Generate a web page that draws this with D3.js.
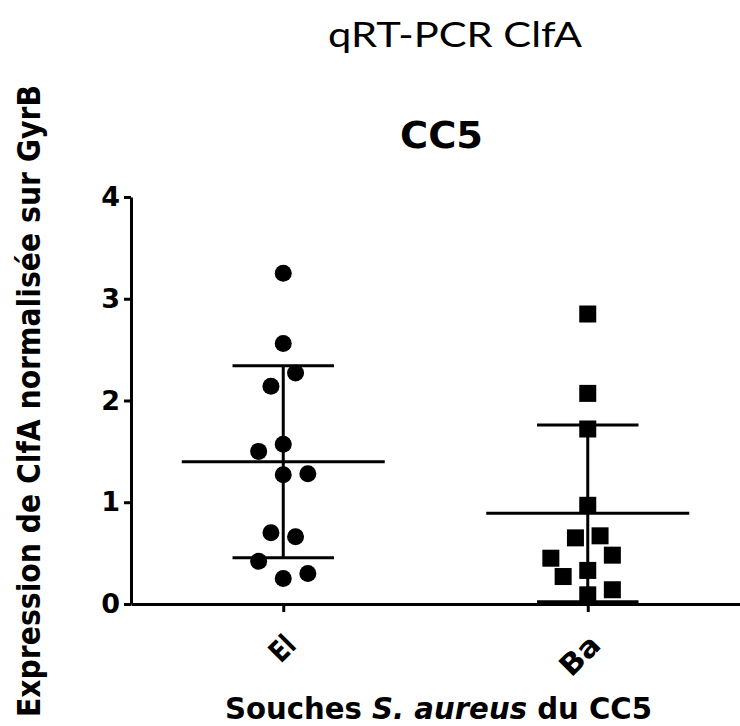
<!DOCTYPE html>
<html>
<head>
<meta charset="utf-8">
<script src="https://cdn.jsdelivr.net/npm/d3@7"></script>
<style>
  body { margin: 0; background: #fff; }
</style>
</head>
<body>
<svg id="chart" width="740" height="726"></svg>
<script>
// values
var categories = ["El", "Ba"];
var elValues = [3.25, 2.56, 2.27, 2.14, 1.57, 1.50, 1.27, 1.28, 0.70, 0.66, 0.42, 0.30, 0.25];
var elLanes  = [0, 0, 1, -1, 0, -2, 0, 2, -1, 1, -2, 2, 0];
var baValues = [2.85, 2.07, 1.72, 0.97, 0.65, 0.67, 0.45, 0.48, 0.33, 0.27, 0.14, 0.09];
var baLanes  = [0, 0, 0, 0, -1, 1, -3, 2, 0, -2, 2, 0];
var yTicks = [0, 1, 2, 3, 4];

var groups = [
    {name: categories[0], values: elValues, lanes: elLanes, shape: "circle"},
    {name: categories[1], values: baValues, lanes: baLanes, shape: "square"}
];

var svg = d3.select("#chart");
var boldFont = "'DejaVu Sans', sans-serif";

var margin = {top: 197, right: 0, bottom: 122, left: 131},
    width = 740 - margin.left - margin.right,
    height = 726 - margin.top - margin.bottom;

var g = svg.append("g").attr("transform", "translate(" + margin.left + "," + margin.top + ")");

var xScale = d3.scalePoint().domain(categories).range([0, width]).padding(0.5);
var yScale = d3.scaleLinear().domain([0, 4]).range([height, 0]);
var laneScale = d3.scaleLinear().domain([-1, 1]).range([-12.3, 12.3]);

// axes
var yAxis = g.append("g")
    .call(d3.axisLeft(yScale).tickValues(yTicks).tickFormat(d3.format("d")).tickSize(7).tickSizeOuter(0).tickPadding(4));
var xAxis = g.append("g")
    .attr("transform", "translate(0," + height + ")")
    .call(d3.axisBottom(xScale).tickSize(8).tickSizeOuter(0));

[yAxis, xAxis].forEach(function(ax) {
    ax.select(".domain").attr("stroke", "#000").attr("stroke-width", 3);
    ax.selectAll(".tick line").attr("stroke", "#000").attr("stroke-width", 3);
});

yAxis.selectAll(".tick text")
    .attr("fill", "#000")
    .style("font-family", boldFont)
    .style("font-weight", "bold")
    .style("font-size", "27px");

var tickLengths = {El: 24, Ba: 44};
xAxis.selectAll(".tick text")
    .attr("fill", "#000")
    .attr("x", 0).attr("y", 0).attr("dy", null)
    .attr("text-anchor", "end")
    .attr("transform", "translate(14,43) rotate(-45)")
    .attr("textLength", function(d) { return tickLengths[d]; })
    .attr("lengthAdjust", "spacingAndGlyphs")
    .style("font-family", boldFont)
    .style("font-weight", "bold")
    .style("font-size", "29px");

// points, mean and SD
groups.forEach(function(grp) {
    var cx = xScale(grp.name);
    var mean = d3.mean(grp.values);
    var sd = d3.deviation(grp.values);
    var half = xScale.step() / 3, capHalf = xScale.step() / 6;

    var pts = grp.values.map(function(v, i) { return {v: v, lane: grp.lanes[i]}; });
    if (grp.shape === "circle") {
        g.selectAll(null).data(pts).enter().append("circle")
            .attr("cx", function(d) { return cx + laneScale(d.lane); })
            .attr("cy", function(d) { return yScale(d.v); })
            .attr("r", 8.5)
            .attr("fill", "#000");
    } else {
        g.selectAll(null).data(pts).enter().append("rect")
            .attr("x", function(d) { return cx + laneScale(d.lane) - 8.5; })
            .attr("y", function(d) { return yScale(d.v) - 8.5; })
            .attr("width", 17).attr("height", 17)
            .attr("fill", "#000");
    }

    var lines = [
        [cx, yScale(mean + sd), cx, yScale(mean - sd)],
        [cx - half, yScale(mean), cx + half, yScale(mean)],
        [cx - capHalf, yScale(mean + sd), cx + capHalf, yScale(mean + sd)],
        [cx - capHalf, yScale(mean - sd), cx + capHalf, yScale(mean - sd)]
    ];
    g.selectAll(null).data(lines).enter().append("line")
        .attr("x1", function(d) { return d[0]; })
        .attr("y1", function(d) { return d[1]; })
        .attr("x2", function(d) { return d[2]; })
        .attr("y2", function(d) { return d[3]; })
        .attr("stroke", "#000")
        .attr("stroke-width", 3);
});

// titles
svg.append("text")
    .attr("x", 328).attr("y", 47)
    .attr("textLength", 254).attr("lengthAdjust", "spacingAndGlyphs")
    .style("font-family", "Lato, 'Open Sans', sans-serif")
    .style("font-size", "35px")
    .attr("fill", "#000")
    .text("qRT-PCR ClfA");

svg.append("text")
    .attr("x", 400).attr("y", 148)
    .attr("textLength", 83).attr("lengthAdjust", "spacingAndGlyphs")
    .style("font-family", boldFont).style("font-weight", "bold")
    .style("font-size", "38px")
    .attr("fill", "#000")
    .text("CC5");

var xTitle = svg.append("text")
    .attr("x", 225).attr("y", 719)
    .attr("textLength", 427).attr("lengthAdjust", "spacingAndGlyphs")
    .style("font-family", boldFont).style("font-weight", "bold")
    .style("font-size", "30px")
    .attr("fill", "#000");
xTitle.append("tspan").text("Souches ");
xTitle.append("tspan").style("font-style", "italic").text("S. aureus");
xTitle.append("tspan").text(" du CC5");

svg.append("text")
    .attr("transform", "translate(40,717) rotate(-90)")
    .attr("textLength", 632).attr("lengthAdjust", "spacingAndGlyphs")
    .style("font-family", boldFont).style("font-weight", "bold")
    .style("font-size", "32px")
    .attr("fill", "#000")
    .text("Expression de ClfA normalisée sur GyrB");
</script>
</body>
</html>
